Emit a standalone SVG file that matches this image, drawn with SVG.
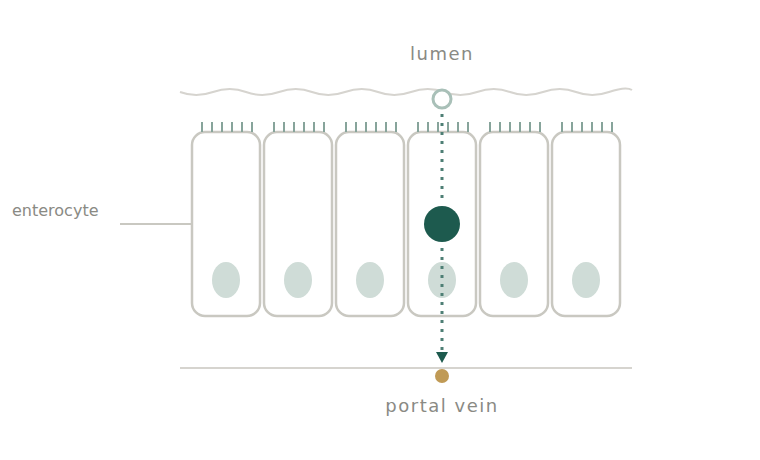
<svg xmlns="http://www.w3.org/2000/svg" width="760" height="460" viewBox="0 0 760 460">
<style>
.cell{fill:#fff;stroke:#c9c8c1;stroke-width:2.5}
.nuc{fill:#cfdcd7}
.mv{stroke:#87a49b;stroke-width:2}
.lbl{font-family:"DejaVu Sans",sans-serif;fill:#8a8a84}
</style>
<defs>
<g id="cellT">
<rect class="cell" x="0" y="0" width="68" height="184" rx="13"/>
<ellipse class="nuc" cx="34" cy="148" rx="14" ry="18"/>
<path class="mv" d="M10 -10V0M20 -10V0M30 -10V0M40 -10V0M50 -10V0M60 -10V0"/>
</g>
</defs>
<path d="M180 92 Q196 98 213 92 T246 92 T279 92 T312 92 T345 92 T378 92 T411 92 T444 92 T477 92 T510 92 T543 92 T576 92 T609 92 T632 90" fill="none" stroke="#d6d4cf" stroke-width="2"/>
<text class="lbl" x="442" y="60" font-size="18" text-anchor="middle" letter-spacing="1.5">lumen</text>
<g id="cell1"><use href="#cellT" x="192" y="132"/></g>
<g id="cell2"><use href="#cellT" x="264" y="132"/></g>
<g id="cell3"><use href="#cellT" x="336" y="132"/></g>
<g id="cell4"><use href="#cellT" x="408" y="132"/></g>
<g id="cell5"><use href="#cellT" x="480" y="132"/></g>
<g id="cell6"><use href="#cellT" x="552" y="132"/></g>
<line x1="180" y1="368" x2="632" y2="368" stroke="#d6d4cf" stroke-width="2"/>
<g id="connectors">
<line x1="120" y1="224" x2="192" y2="224" stroke="#c9c8c1" stroke-width="2"/>
<line x1="442" y1="114" x2="442" y2="204" stroke="#4e7f75" stroke-width="3" stroke-dasharray="3 6"/>
<line x1="442" y1="248" x2="442" y2="350" stroke="#4e7f75" stroke-width="3" stroke-dasharray="3 6"/>
<polygon points="436,352 448,352 442,363" fill="#1d5a4e"/>
</g>
<g id="tracer-open"><circle cx="442" cy="99" r="9" fill="#fff" stroke="#a9c0b8" stroke-width="3"/></g>
<g id="tracer"><circle cx="442" cy="224" r="18" fill="#1d5a4e"/></g>
<g id="portal"><circle cx="442" cy="376" r="7" fill="#c09a55"/></g>
<text class="lbl" x="442" y="412" font-size="18" text-anchor="middle" letter-spacing="1.5">portal vein</text>
<text class="lbl" x="12" y="216" font-size="16">enterocyte</text>
</svg>
